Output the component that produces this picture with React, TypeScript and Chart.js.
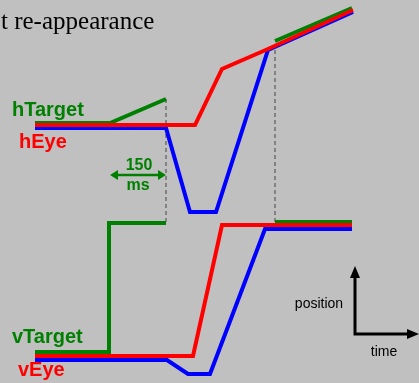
import React, { useEffect, useRef } from "react";
import { Chart, registerables } from "chart.js";

Chart.register(...registerables);

// Schematic units: time (x) and position (y, downward), matching the figure layout
const hTargetTime = [35, 110, 166, null, 275, 352];
const hTargetPos = [123, 123, 99, null, 41, 8];
const hEyeRedTime = [35, 195, 222, 268, 353];
const hEyeRedPos = [125, 125, 69, 49, 10];
const hEyeBlueTime = [35, 166, 190, 216, 268, 353];
const hEyeBluePos = [128, 128, 212, 212, 50, 12];

const vTargetTime = [35, 109, 109, 166, null, 275, 352];
const vTargetPos = [352, 352, 223, 223, null, 222, 222];
const vEyeRedTime = [35, 193, 222, 352];
const vEyeRedPos = [356, 356, 225, 225];
const vEyeBlueTime = [35, 167, 188, 210, 265, 352];
const vEyeBluePos = [360, 360, 374, 374, 229, 229];

const markerTime = [166, 166, null, 275, 275];
const markerPos = [99, 223, null, 50, 222];

const GREEN = "#008000";
const RED = "#ff0000";
const BLUE = "#0000ff";
const BG = "#c0c0c0";

function pts(xs: (number | null)[], ys: (number | null)[]) {
  return xs.map((x, i) => ({ x: x === null ? NaN : x, y: ys[i] }));
}

const annotationPlugin = {
  id: "annotations",
  beforeDraw(chart: any) {
    const { ctx, width, height } = chart;
    ctx.save();
    ctx.fillStyle = BG;
    ctx.fillRect(0, 0, width, height);
    ctx.restore();
  },
  afterDatasetsDraw(chart: any) {
    const { ctx } = chart;
    const xs = chart.scales.x;
    const ys = chart.scales.y;
    const X = (v: number) => xs.getPixelForValue(v);
    const Y = (v: number) => ys.getPixelForValue(v);
    ctx.save();
    ctx.textBaseline = "alphabetic";
    ctx.textAlign = "left";

    ctx.fillStyle = "#000";
    ctx.font = '25px "Liberation Serif", "Times New Roman", serif';
    ctx.fillText("t re-appearance", X(1), Y(29));

    const label = (t: string, x: number, y: number, color: string, font: string, align = "left") => {
      ctx.fillStyle = color;
      ctx.font = font;
      ctx.textAlign = align;
      ctx.fillText(t, X(x), Y(y));
    };
    const bold20 = 'bold 20px "Liberation Sans", Arial, sans-serif';
    label("hTarget", 12, 116, GREEN, bold20);
    label("hEye", 19, 148, RED, bold20);
    label("vTarget", 12, 343, GREEN, bold20);
    label("vEye", 18, 376, RED, bold20);
    const bold16 = 'bold 16px "Liberation Sans", Arial, sans-serif';
    label("150", 139, 170, GREEN, bold16, "center");
    label("ms", 138, 190, GREEN, bold16, "center");
    const reg14 = '14px "Liberation Sans", Arial, sans-serif';
    label("position", 319, 308, "#000", reg14, "center");
    label("time", 384, 356, "#000", reg14, "center");

    // double arrow 150 ms
    const arrowHead = (tx: number, ty: number, dir: string, len: number, half: number) => {
      ctx.beginPath();
      if (dir === "left") {
        ctx.moveTo(tx, ty); ctx.lineTo(tx + len, ty - half); ctx.lineTo(tx + len, ty + half);
      } else if (dir === "right") {
        ctx.moveTo(tx, ty); ctx.lineTo(tx - len, ty - half); ctx.lineTo(tx - len, ty + half);
      } else if (dir === "up") {
        ctx.moveTo(tx, ty); ctx.lineTo(tx - half, ty + len); ctx.lineTo(tx + half, ty + len);
      }
      ctx.closePath();
      ctx.fill();
    };
    ctx.strokeStyle = GREEN;
    ctx.fillStyle = GREEN;
    ctx.lineWidth = 2.5;
    ctx.beginPath();
    ctx.moveTo(X(114), Y(175));
    ctx.lineTo(X(162), Y(175));
    ctx.stroke();
    arrowHead(X(110), Y(175), "left", 8, 5);
    arrowHead(X(166), Y(175), "right", 8, 5);

    // axes icon
    ctx.strokeStyle = "#000";
    ctx.fillStyle = "#000";
    ctx.lineWidth = 3;
    ctx.beginPath();
    ctx.moveTo(X(355), Y(277));
    ctx.lineTo(X(355), Y(334));
    ctx.lineTo(X(409), Y(334));
    ctx.stroke();
    arrowHead(X(355), Y(266), "up", 12, 5);
    arrowHead(X(419), Y(334), "right", 12, 5);
    ctx.restore();
  },
};

export default function App() {
  const ref = useRef<HTMLCanvasElement | null>(null);
  useEffect(() => {
    if (!ref.current) return;
    const common = {
      showLine: true,
      pointRadius: 0,
      borderWidth: 4,
      spanGaps: false,
      borderJoinStyle: "miter",
      borderCapStyle: "butt",
      tension: 0,
      fill: false,
    };
    const chart = new Chart(ref.current, {
      type: "scatter",
      data: {
        datasets: [
          { ...common, label: "markers", data: pts(markerTime, markerPos), borderColor: "#444", borderWidth: 1, borderDash: [4, 3], order: 10 },
          { ...common, label: "hTarget", data: pts(hTargetTime, hTargetPos), borderColor: GREEN, order: 3 },
          { ...common, label: "hEye (blue)", data: pts(hEyeBlueTime, hEyeBluePos), borderColor: BLUE, order: 2 },
          { ...common, label: "hEye", data: pts(hEyeRedTime, hEyeRedPos), borderColor: RED, order: 1 },
          { ...common, label: "vTarget", data: pts(vTargetTime, vTargetPos), borderColor: GREEN, order: 3 },
          { ...common, label: "vEye (blue)", data: pts(vEyeBlueTime, vEyeBluePos), borderColor: BLUE, order: 2 },
          { ...common, label: "vEye", data: pts(vEyeRedTime, vEyeRedPos), borderColor: RED, order: 1 },
        ] as any,
      },
      options: {
        animation: false,
        responsive: false,
        devicePixelRatio: 1,
        layout: { padding: 0 },
        clip: false as any,
        plugins: { legend: { display: false }, tooltip: { enabled: false }, title: { display: false } },
        scales: {
          x: { type: "linear", min: 0, max: 419, display: false },
          y: { type: "linear", min: 0, max: 383, reverse: true, display: false },
        },
      },
      plugins: [annotationPlugin],
    });
    return () => chart.destroy();
  }, []);
  return (
    <div style={{ position: "fixed", left: 0, top: 0, width: 419, height: 383, background: BG }}>
      <canvas ref={ref} width={419} height={383} style={{ display: "block" }} />
    </div>
  );
}
